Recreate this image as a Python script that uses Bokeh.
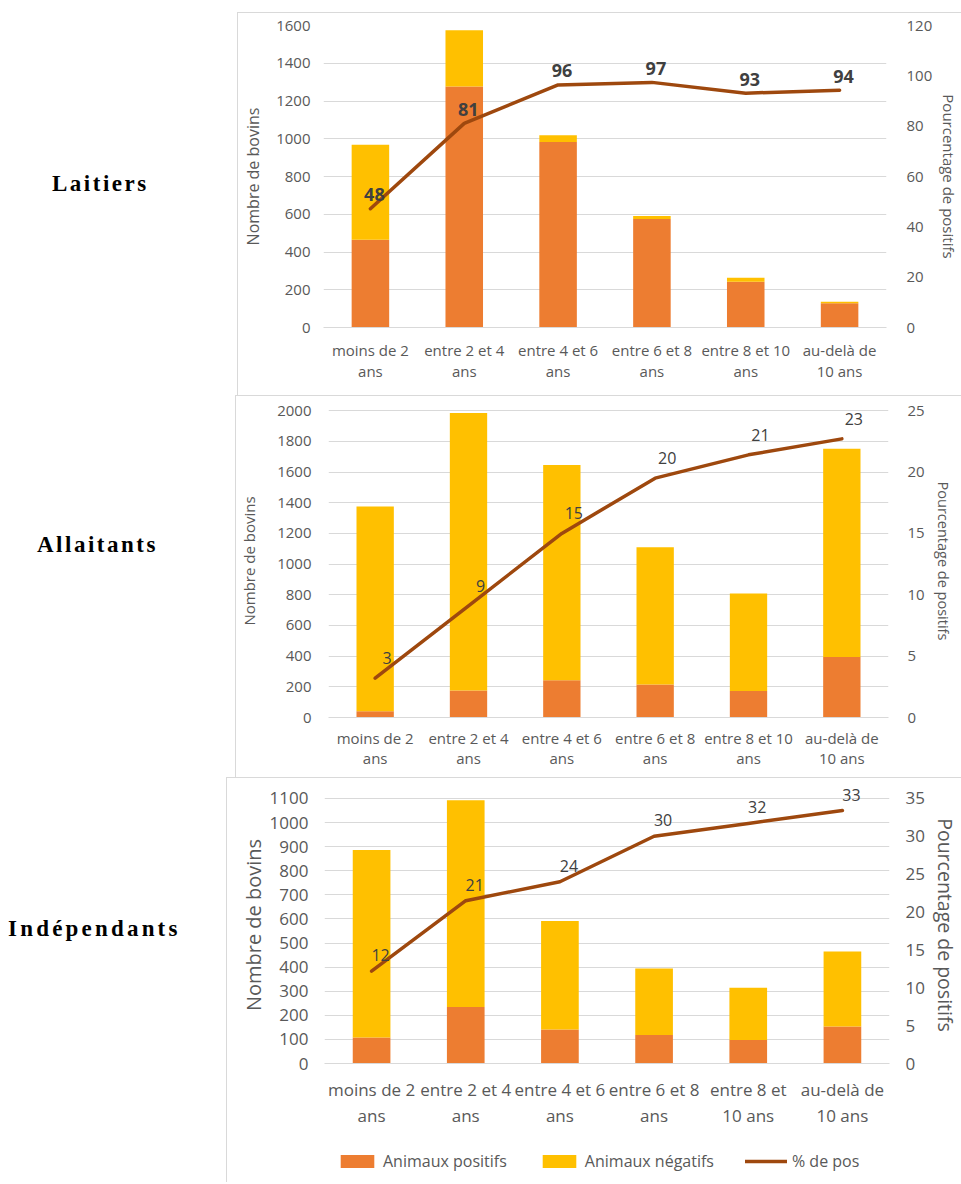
from bokeh.plotting import figure
from bokeh.models import (FactorRange, Range1d, LinearAxis, SingleIntervalTicker,
                          ColumnDataSource, LabelSet, Legend, LegendItem, Div)
from bokeh.layouts import column, row
from bokeh.core.properties import value
from bokeh.embed import file_html
from bokeh.resources import INLINE

# ---------------- data ----------------
categories_ab = ["moins de 2\nans", "entre 2 et 4\nans", "entre 4 et 6\nans",
                 "entre 6 et 8\nans", "entre 8 et 10\nans", "au-delà de\n10 ans"]
categories_c = ["moins de 2\nans", "entre 2 et 4\nans", "entre 4 et 6\nans",
                "entre 6 et 8\nans", "entre 8 et\n10 ans", "au-delà de\n10 ans"]

laitiers_positifs = [465, 1277, 983, 575, 243, 128]
laitiers_negatifs = [503, 298, 35, 16, 20, 9]
laitiers_pct = [47.2, 81.1, 96.4, 97.4, 93.1, 94.3]
laitiers_pct_labels = ["48", "81", "96", "97", "93", "94"]

allaitants_positifs = [41, 176, 243, 215, 172, 395]
allaitants_negatifs = [1334, 1809, 1403, 895, 636, 1357]
allaitants_pct = [3.2, 9.1, 15.0, 19.5, 21.4, 22.7]
allaitants_pct_labels = ["3", "9", "15", "20", "21", "23"]

independants_positifs = [108, 234, 141, 118, 98, 154]
independants_negatifs = [778, 858, 450, 276, 216, 311]
independants_pct = [12.2, 21.5, 24.0, 30.0, 31.7, 33.4]
independants_pct_labels = ["12", "21", "24", "30", "32", "33"]

group_names = ["Laitiers", "Allaitants", "Indépendants"]
left_title = "Nombre de bovins"
right_title = "Pourcentage de positifs"
legend_labels = ["Animaux positifs", "Animaux négatifs", "% de pos"]

# ---------------- style ----------------
FONT = "Open Sans"
TXT = "#595959"
LBL = "#404040"
ORANGE = "#ED7D31"
YELLOW = "#FFC000"
LINEC = "#9E480E"
GRID = "#D9D9D9"
BORDER = {"border-left": "1px solid #d9d9d9", "border-top": "1px solid #d9d9d9",
          "box-sizing": "border-box"}


def draw_series(p, src, visible=True):
    bars = p.vbar_stack(["pos", "neg"], x="cat", width=0.4, color=[ORANGE, YELLOW],
                        line_color=None, source=src, visible=visible)
    ln = p.line(x="cat", y="pct", source=src, y_range_name="pct", line_color=LINEC,
                line_width=3.5, line_join="round", line_cap="round", visible=visible)
    return bars, ln


def make_panel(cats, pos, neg, pct, labs, ymax, yint, pmax, pint, headroom, W, H,
               mb, tick_fs, cat_fs, ltitle_fs, rtitle_fs, lab_fs, lab_bold,
               lab_off, stand, cat_lh):
    # headroom: extra room above the top gridline so that point labels are not clipped
    top = ymax * (1 + headroom)
    ptop = pmax * (1 + headroom)
    p = figure(x_range=FactorRange(*cats), y_range=Range1d(0, top),
               width=W, height=H, output_backend="svg", toolbar_location=None,
               min_border_left=mb[0], min_border_right=mb[1],
               min_border_top=mb[2], min_border_bottom=mb[3])
    p.extra_y_ranges = {"pct": Range1d(0, ptop)}
    p.outline_line_color = None
    p.background_fill_color = "white"
    p.border_fill_color = "white"
    src = ColumnDataSource(dict(cat=cats, pos=pos, neg=neg, pct=pct, lab=labs))
    draw_series(p, src)
    ls = LabelSet(x="cat", y="pct", text="lab", source=src, y_range_name="pct",
                  x_offset=lab_off[0], y_offset=lab_off[1], text_align="center",
                  text_baseline="middle", text_font=value(FONT),
                  text_font_size=value(lab_fs),
                  text_font_style=value("bold" if lab_bold else "normal"),
                  text_color=LBL)
    p.add_layout(ls)

    p.xgrid.grid_line_color = None
    p.ygrid.grid_line_color = GRID
    p.ygrid.grid_line_width = 1
    p.ygrid.ticker = SingleIntervalTicker(interval=yint)

    ly = p.yaxis[0]
    ly.ticker = SingleIntervalTicker(interval=yint)
    ly.axis_label = left_title
    rax = LinearAxis(y_range_name="pct", ticker=SingleIntervalTicker(interval=pint),
                     axis_label=right_title)
    p.add_layout(rax, "right")
    for ax, tfs, st in ((ly, ltitle_fs, stand[0]), (rax, rtitle_fs, stand[1])):
        ax.axis_line_color = None
        ax.major_tick_line_color = None
        ax.minor_tick_line_color = None
        ax.major_tick_out = 0
        ax.major_tick_in = 0
        ax.major_label_text_font = FONT
        ax.major_label_text_font_size = tick_fs
        ax.major_label_text_color = TXT
        ax.major_label_standoff = st[0]
        ax.axis_label_standoff = st[1]
        ax.axis_label_text_font = FONT
        ax.axis_label_text_font_size = tfs
        ax.axis_label_text_font_style = "normal"
        ax.axis_label_text_color = TXT
    xa = p.xaxis[0]
    xa.axis_line_color = GRID
    xa.axis_line_width = 1
    xa.major_tick_line_color = None
    xa.minor_tick_line_color = None
    xa.major_tick_out = 0
    xa.major_tick_in = 0
    xa.major_label_text_font = FONT
    xa.major_label_text_font_size = cat_fs
    xa.major_label_text_color = TXT
    xa.major_label_standoff = stand[2]
    xa.major_label_text_line_height = cat_lh
    p.styles = BORDER
    return p


p1 = make_panel(categories_ab, laitiers_positifs, laitiers_negatifs, laitiers_pct,
                laitiers_pct_labels, 1600, 200, 120, 20, 0.0, 724, 383,
                (85, 72, 12, 69), "15px", "15px", "16px", "15px", "18px", True,
                (4, 14), ((9, 9), (16, 4), 12), 1.05)
p2 = make_panel(categories_ab, allaitants_positifs, allaitants_negatifs, allaitants_pct,
                allaitants_pct_labels, 2000, 200, 25, 5, 0.02, 726, 382,
                (88, 74, 8, 61), "15px", "15px", "15px", "14.5px", "16px", False,
                (12, 20), ((13, 15), (15, 6), 10), 1.0)
p3 = make_panel(categories_c, independants_positifs, independants_negatifs, independants_pct,
                independants_pct_labels, 1100, 100, 35, 5, 0.045, 735, 363,
                (97, 73, 8, 78), "17px", "17px", "20px", "19.5px", "16px", False,
                (9, 16), ((12, 0), (12, 4), 14), 1.15)

# legend strip under the third chart (same series, hidden, only their legend is shown)
pl = figure(x_range=FactorRange(*categories_c), y_range=Range1d(0, 1),
            width=735, height=42, output_backend="svg", toolbar_location=None,
            x_axis_location=None, y_axis_location=None,
            min_border_left=0, min_border_right=0, min_border_top=0, min_border_bottom=0)
pl.extra_y_ranges = {"pct": Range1d(0, 35)}
pl.grid.visible = False
pl.outline_line_color = None
leg_src = ColumnDataSource(dict(cat=categories_c, pos=independants_positifs,
                                neg=independants_negatifs, pct=independants_pct))
lb, ll = draw_series(pl, leg_src, visible=False)
lg = Legend(items=[LegendItem(label=legend_labels[0], renderers=[lb[0]]),
                   LegendItem(label=legend_labels[1], renderers=[lb[1]]),
                   LegendItem(label=legend_labels[2], renderers=[ll])],
            orientation="horizontal", location=(109, 10),
            glyph_width=42, glyph_height=16, spacing=31, label_standoff=5,
            padding=0, margin=0, label_text_font=FONT, label_text_font_size="16px",
            label_text_color=TXT, border_line_color=None, background_fill_alpha=0,
            inactive_fill_alpha=0, click_policy="none")
pl.add_layout(lg, "center")
pl.styles = {"border-left": "1px solid #d9d9d9", "box-sizing": "border-box"}


def label_div(text, W, H, left, top, ls):
    html = ('<div style="padding-left:%dpx; padding-top:%dpx; '
            'font-family:\'Liberation Serif\', \'Times New Roman\', serif; '
            'font-weight:bold; font-size:23px; letter-spacing:%spx; '
            'line-height:1; color:#000;">%s</div>' % (left, top, ls, text))
    return Div(text=html, width=W, height=H, margin=0)


d0 = Div(text="", width=10, height=12, margin=0)
d1 = label_div(group_names[0], 237, 383, 52, 160, 2.5)
d2 = label_div(group_names[1], 235, 382, 37, 138, 2.5)
d3 = label_div(group_names[2], 226, 363, 8, 140, 3.2)
d4 = Div(text="", width=226, height=42, margin=0)

layout = column(d0, row(d1, p1), row(d2, p2), row(d3, p3), row(d4, pl))

open("out.html", "w").write(file_html(layout, INLINE))
